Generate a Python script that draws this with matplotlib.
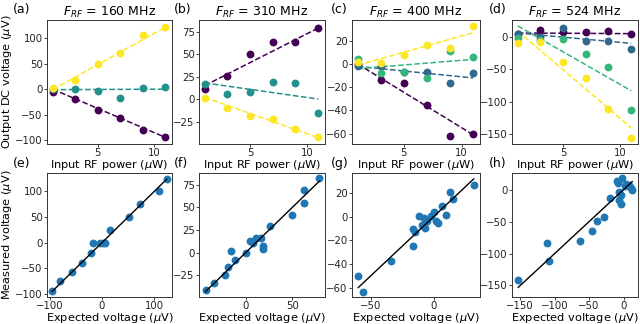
import matplotlib
matplotlib.use("Agg")
import matplotlib.pyplot as plt
import numpy as np

# ---------------- data ----------------
power = [1, 3, 5, 7, 9, 11]
freqs = ["160", "310", "400", "524"]

# top row: output DC voltage (uV) per series
a_purple = [-5, -19, -40, -56, -79, -94]
a_teal = [0, 1, -3, -18, 3, 4]
a_yellow = [3, 17, 50, 71, 106, 121]
a_fit_purple = [0, -94]
a_fit_teal = [-1, 0]
a_fit_yellow = [-1, 121]

b_purple = [11, 26, 50, 63, 63, 79]
b_teal = [17, 6, 8, 19, 18, -15]
b_yellow = [1.5, -10, -19, -22, -33, -42]
b_fit_purple = [15, 79]
b_fit_teal = [18, 0]
b_fit_yellow = [2, -43]

c_purple = [0, -14, -16, -35, -62, -60]
c_blue = [-2, -2, -7, -7, -16, -8]
c_green = [4, -8, -7, -12, 11, 6]
c_yellow = [2, 1, 8, 16, 14, 33]
c_fit_purple = [0, -61]
c_fit_blue = [-2, -12]
c_fit_green = [-4, 4]
c_fit_yellow = [-1, 27]

d_purple = [5, 11, 7, 7, 9, 4]
d_blue = [5, 0, 13, -6, -6, -19]
d_green = [-1, -5, -4, -27, -47, -113]
d_yellow = [-9, -8, -39, -64, -111, -156]
d_fit_purple = [6, 5]
d_fit_blue = [6, -10]
d_fit_green = [17, -83]
d_fit_yellow = [9, -140]

# bottom row: expected vs measured voltage (uV)
e_expected = [-95, -80, -57, -39, -20, -18, -4, 2, 6, 16, 52, 73, 109, 124]
e_measured = [-95, -75, -58, -39, -20, -1, -1, -1, -1, 25, 50, 75, 100, 125]

f_expected = [-43, -34, -22.5, -19, -16, -11, 0, 5, 8, 11, 16, 18.6, 19, 26, 50, 62.5, 62.5, 79]
f_measured = [-41, -33, -25, -16, 2, -8, 0, 13, 11, 16, 16, 4, 7, 29, 42, 69, 55, 82]

g_expected = [-60, -56.6, -34, -16, -16, -14.6, -12, -9.3, -8, -6.6, -5.3, -2, 0, 2.1,
              3.2, 6.7, 10.1, 13.3, 15.5, 32]
g_measured = [-50.6, -63.4, -37.7, -24.9, -10.6, -12.6, 0.3, -6.9, -1.1, -9.7, -4, 0.3,
              3.7, -4, -5.4, 9.4, 1.7, 20.8, 15.2, 26.6]

h_expected = [-153, -111, -108, -63, -46, -39, -28, -19, -10, -8.7, -7, -6, -4, -3, -2,
              1.5, 4, 8, 11, 12.6]
h_measured = [-142, -84, -111, -80, -64, -49, -43, -13, 13, 11, -3, -16, -22, -8, 18,
              5, 9, 8, 2, 0]

cmap = plt.get_cmap("viridis")
top_panels = [
    ([a_purple, a_teal, a_yellow], [a_fit_purple, a_fit_teal, a_fit_yellow]),
    ([b_purple, b_teal, b_yellow], [b_fit_purple, b_fit_teal, b_fit_yellow]),
    ([c_purple, c_blue, c_green, c_yellow], [c_fit_purple, c_fit_blue, c_fit_green, c_fit_yellow]),
    ([d_purple, d_blue, d_green, d_yellow], [d_fit_purple, d_fit_blue, d_fit_green, d_fit_yellow]),
]
bottom_panels = [(e_expected, e_measured), (f_expected, f_measured),
                 (g_expected, g_measured), (h_expected, h_measured)]

top_ylim = [(-107, 135), (-50, 88), (-69, 38), (-165, 26)]
top_yticks = [[-100, -50, 0, 50, 100], [-25, 0, 25, 50, 75], [-60, -40, -20, 0, 20],
              [-150, -100, -50, 0]]
bot_xlim = [(-105, 134), (-50, 85), (-65, 37), (-162, 21)]
bot_ylim = [(-106, 136), (-49, 88), (-68, 37), (-168, 26)]
bot_xticks = [[-100, 0, 100], [0, 50], [-50, 0], [-150, -100, -50, 0]]
bot_yticks = [[-100, -50, 0, 50, 100], [-25, 0, 25, 50, 75], [-60, -40, -20, 0, 20],
              [-150, -100, -50, 0]]

# ---------------- layout ----------------
W, H = 640, 324
fig = plt.figure(figsize=(W / 100, H / 100), dpi=100)
cols = [(47, 172), (199, 325), (352, 480), (512, 638)]
rows = [(20, 144), (173, 297)]
letter_x = [13, 174, 331, 489]

def add_ax(col, row):
    l, r = cols[col]
    t, b = rows[row]
    return fig.add_axes([l / W, 1 - b / H, (r - l) / W, (b - t) / H])

TICK = 7.3
LAB = 8.2
spine_c = "#333333"

def style(ax):
    for s in ax.spines.values():
        s.set_linewidth(0.7)
        s.set_color(spine_c)
    ax.tick_params(labelsize=TICK, length=2, width=0.6, pad=1, colors="#222222")

letters_top = ["(a)", "(b)", "(c)", "(d)"]
letters_bot = ["(e)", "(f)", "(g)", "(h)"]

for i, (series, fits) in enumerate(top_panels):
    ax = add_ax(i, 0)
    n = len(series)
    for k, (ys, fit) in enumerate(zip(series, fits)):
        c = cmap(k / (n - 1))
        ax.plot([power[0], power[-1]], fit, ls="--", color=c, lw=1.1, zorder=2)
        ax.scatter(power, ys, s=32, color=c, zorder=3, linewidths=0)
    ax.set_xlim(0.5, 11.6)
    ax.set_xticks([5, 10])
    ax.set_ylim(*top_ylim[i])
    ax.set_yticks(top_yticks[i])
    style(ax)
    ax.set_xlabel(r"Input RF power ($\mu$W)", fontsize=LAB, labelpad=0)
    ax.set_title(r"$F_{RF}$ = " + freqs[i] + " MHz", fontsize=9, pad=3)
    if i == 0:
        ax.set_ylabel(r"Output DC voltage ($\mu$V)", fontsize=LAB, labelpad=1)
    fig.text(letter_x[i] / W, 1 - 9 / H, letters_top[i], fontsize=9,
             va="center", ha="left")

for i, (ex, me) in enumerate(bottom_panels):
    ax = add_ax(i, 1)
    ax.scatter(ex, me, s=32, color="#1f77b4", zorder=2, linewidths=0)
    lo, hi = min(ex), max(ex)
    ax.plot([lo, hi], [lo, hi], color="black", lw=1.0, zorder=3)
    ax.set_xlim(*bot_xlim[i])
    ax.set_ylim(*bot_ylim[i])
    ax.set_xticks(bot_xticks[i])
    ax.set_yticks(bot_yticks[i])
    style(ax)
    ax.set_xlabel(r"Expected voltage ($\mu$V)", fontsize=LAB, labelpad=0)
    if i == 0:
        ax.set_ylabel(r"Measured voltage ($\mu$V)", fontsize=LAB, labelpad=1)
    fig.text(letter_x[i] / W, 1 - 163 / H, letters_bot[i], fontsize=9,
             va="center", ha="left")

fig.savefig("out.png", dpi=100)
